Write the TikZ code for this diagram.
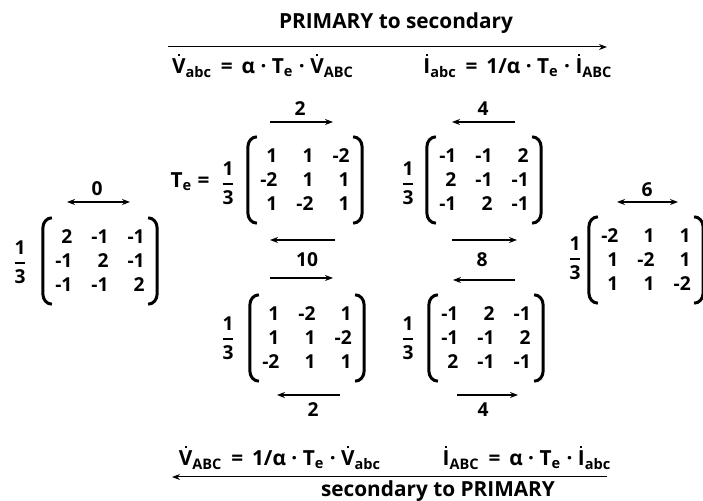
\documentclass[tikz,border=0pt]{standalone}
\usepackage{amsmath}
\usepackage{fontspec}
\setmainfont{Open Sans}
\usepackage{tikz}
\usetikzlibrary{matrix,arrows.meta}

\newcommand{\dotted}[1]{\leavevmode\vbox{\offinterlineskip\halign{\hfil##\hfil\cr
  \rule{1.1pt}{1.1pt}\cr\noalign{\kern1.3pt}#1\cr}}}
\newcommand{\third}{$\genfrac{}{}{1pt}{0}{\text{1}}{\text{3}}$}
\newcommand{\parenpair}[1]{%
  \draw[paren] ([xshift=-1.5pt,yshift=6pt]#1.north west) to[out=180,in=90]
    ([xshift=-6pt,yshift=1pt]#1.north west) -- ([xshift=-6pt,yshift=-1pt]#1.south west)
    to[out=-90,in=180] ([xshift=-1.5pt,yshift=-6pt]#1.south west);
  \draw[paren] ([xshift=1.5pt,yshift=6pt]#1.north east) to[out=0,in=90]
    ([xshift=6pt,yshift=1pt]#1.north east) -- ([xshift=6pt,yshift=-1pt]#1.south east)
    to[out=-90,in=0] ([xshift=1.5pt,yshift=-6pt]#1.south east);}

\begin{document}
\begin{tikzpicture}[
    x=0.5pt, y=-0.5pt,
    every node/.style={font=\bfseries\fontsize{9.6}{11}\selectfont},
    big/.style={font=\bfseries\fontsize{10.4}{12}\selectfont},
    mat/.style={matrix of nodes, inner sep=0pt, column sep=9.5pt, row sep=5.2pt,
                nodes={anchor=base east, inner sep=0pt, text height=6.8pt, text depth=0pt}},
    paren/.style={line width=1.5pt},
    arr/.style={->, >={Stealth[length=4pt,width=3pt]}, line width=0.6pt},
    darr/.style={arr, <->},
    lbl/.style={inner sep=1pt},
]
\useasboundingbox (0,0) rectangle (703,501);

%% Header
\node[big] (title) at (396,23) {PRIMARY to secondary};
\node[big] (vtop)  at (263,66) {\dotted{V}\textsubscript{abc} \,=\, α · T\textsubscript{e} · \dotted{V}\textsubscript{ABC}};
\node[big] (itop)  at (518,66) {\dotted{I}\textsubscript{abc} \,=\, 1/α · T\textsubscript{e} · \dotted{I}\textsubscript{ABC}};
\draw[arr, line width=0.5pt] (168,47) -- (607,47);

%% Matrices
\matrix (m0) [mat] at (100,261) {2 & -1 & -1\\ -1 & 2 & -1\\ -1 & -1 & 2\\};
\node (f0) at (20,262) {\third};
\parenpair{m0}

\matrix (m2) [mat] at (305,180) {1 & 1 & -2\\ -2 & 1 & 1\\ 1 & -2 & 1\\};
\node (f2) at (228,183) {\third};
\node[big] (te) at (190,182) {T\textsubscript{e} =};
\parenpair{m2}

\matrix (m4) [mat] at (484,180) {-1 & -1 & 2\\ 2 & -1 & -1\\ -1 & 2 & -1\\};
\node (f4) at (408,183) {\third};
\parenpair{m4}

\matrix (m10) [mat] at (307,338) {1 & -2 & 1\\ 1 & 1 & -2\\ -2 & 1 & 1\\};
\node (f10) at (228,338) {\third};
\parenpair{m10}

\matrix (m8) [mat] at (486,338) {-1 & 2 & -1\\ -1 & -1 & 2\\ 2 & -1 & -1\\};
\node (f8) at (408,338) {\third};
\parenpair{m8}

\matrix (m6) [mat] at (646,260) {-2 & 1 & 1\\ 1 & -2 & 1\\ 1 & 1 & -2\\};
\node (f6) at (575,258) {\third};
\parenpair{m6}

%% Phase arrows
\node[lbl] (n0) at (97,189) {0};
\draw[darr] (67,202) -- (130,202);
\node[lbl] (n6) at (647,190) {6};
\draw[darr] (617,202) -- (678,202);

\node[lbl] (n2a) at (300,109) {2};
\draw[arr] (270,122) -- (333,122);
\node[lbl] (n4a) at (483,109) {4};
\draw[arr] (515,122) -- (452,122);
\draw[arr] (335,240) -- (270,240);
\draw[arr] (452,240) -- (517,240);

\node[lbl] (n10) at (307,260) {10};
\draw[arr] (270,278) -- (333,278);
\node[lbl] (n8) at (482,260) {8};
\draw[arr] (515,280) -- (453,280);

\draw[arr] (340,395) -- (277,395);
\node[lbl] (n2b) at (313,410) {2};
\draw[arr] (457,395) -- (518,395);
\node[lbl] (n4b) at (483,410) {4};

%% Footer
\node[big] (vbot) at (280,458) {\dotted{V}\textsubscript{ABC} \,=\, 1/α · T\textsubscript{e} · \dotted{V}\textsubscript{abc}};
\node[big] (ibot) at (527,458) {\dotted{I}\textsubscript{ABC} \,=\, α · T\textsubscript{e} · \dotted{I}\textsubscript{abc}};
\draw[arr, line width=0.5pt] (607,477) -- (172,477);
\node[big] (foot) at (438,491) {secondary to PRIMARY};

\end{tikzpicture}
\end{document}
